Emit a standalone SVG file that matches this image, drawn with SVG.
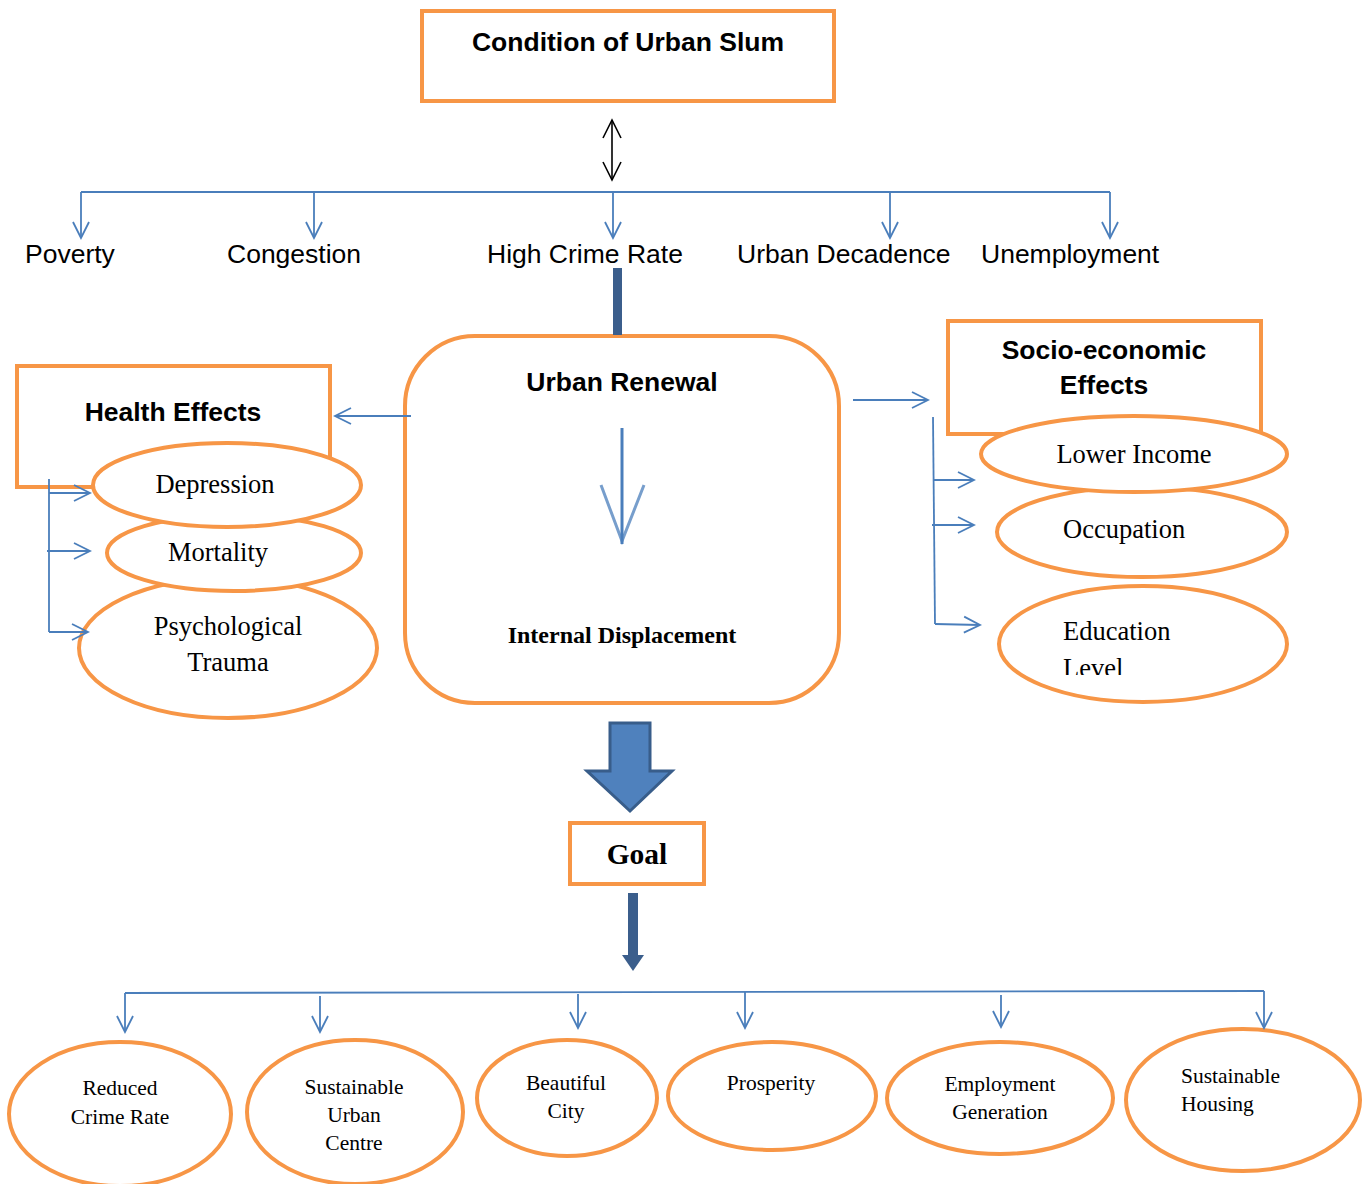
<svg xmlns="http://www.w3.org/2000/svg" width="1362" height="1184" viewBox="0 0 1362 1184">
<style>
.box{fill:#fff;stroke:#F79646;stroke-width:4}
.ell{fill:#fff;stroke:#F79646;stroke-width:4}
.con{fill:none;stroke:#4A7EBB;stroke-width:1.8}
.hb{font-family:"Liberation Sans",Arial,sans-serif;font-weight:bold;font-size:26.5px;fill:#000;text-anchor:middle}
.h{font-family:"Liberation Sans",Arial,sans-serif;font-size:26.5px;fill:#000}
.t{font-family:"Liberation Serif","Times New Roman",serif;font-size:26.5px;fill:#000;text-anchor:middle}
.s{font-family:"Liberation Serif","Times New Roman",serif;font-size:21.5px;fill:#000;text-anchor:middle}
</style>
<defs>
<marker id="ar" markerUnits="userSpaceOnUse" markerWidth="20" markerHeight="20" viewBox="-18 -10 20 20" refX="0" refY="0" orient="auto">
<path d="M-16,-8 L0,0 L-16,8" fill="none" stroke="#4A7EBB" stroke-width="1.8"/>
</marker>
<marker id="bk" markerUnits="userSpaceOnUse" markerWidth="24" markerHeight="24" viewBox="-20 -12 24 24" refX="0" refY="0" orient="auto-start-reverse">
<path d="M-18,-9 L0,0 L-18,9" fill="none" stroke="#000" stroke-width="1.6"/>
</marker>
<clipPath id="clipEd"><rect x="1000" y="600" width="300" height="75"/></clipPath>
</defs>

<g id="condition">
<rect class="box" x="422" y="11" width="412" height="90"/>
<text class="hb" x="628" y="51">Condition of Urban Slum</text>
</g>

<g id="labels-top">
<text class="h" x="25" y="263">Poverty</text>
<text class="h" x="227" y="263">Congestion</text>
<text class="h" x="487" y="263">High Crime Rate</text>
<text class="h" x="737" y="263">Urban Decadence</text>
<text class="h" x="981" y="263">Unemployment</text>
</g>

<g id="urban-renewal">
<rect class="box" x="405" y="336" width="434" height="367" rx="70" ry="70"/>
<text class="hb" x="622" y="391">Urban Renewal</text>
<text class="t" x="622" y="643" style="font-weight:bold;font-size:24px">Internal Displacement</text>
</g>

<g id="health-effects">
<rect class="box" x="17" y="366" width="313" height="121"/>
<text class="hb" x="173" y="421">Health Effects</text>
</g>
<g id="psychological-trauma">
<ellipse class="ell" cx="228" cy="648" rx="149" ry="70"/>
<text class="t" x="228" y="635">Psychological</text>
<text class="t" x="228" y="671">Trauma</text>
</g>
<g id="mortality">
<ellipse class="ell" cx="234" cy="553" rx="127" ry="38"/>
<text class="t" x="218" y="561">Mortality</text>
</g>
<g id="depression">
<ellipse class="ell" cx="227" cy="485" rx="134" ry="42"/>
<text class="t" x="215" y="493">Depression</text>
</g>

<g id="socio-economic-effects">
<rect class="box" x="948" y="321" width="313" height="113"/>
<text class="hb" x="1104" y="359">Socio-economic</text>
<text class="hb" x="1104" y="394">Effects</text>
</g>
<g id="education-level">
<ellipse class="ell" cx="1143" cy="644" rx="144" ry="58"/>
<text class="t" x="1063" y="640" style="text-anchor:start">Education</text>
<text class="t" x="1063" y="677" style="text-anchor:start" clip-path="url(#clipEd)">Level</text>
</g>
<g id="occupation">
<ellipse class="ell" cx="1142" cy="532" rx="145" ry="45"/>
<text class="t" x="1063" y="538" style="text-anchor:start">Occupation</text>
</g>
<g id="lower-income">
<ellipse class="ell" cx="1134" cy="454" rx="153" ry="38"/>
<text class="t" x="1134" y="463">Lower Income</text>
</g>

<g id="goal">
<rect class="box" x="570" y="823" width="134" height="61"/>
<text class="t" x="637" y="864" style="font-weight:bold;font-size:29.5px">Goal</text>
</g>

<g id="reduced-crime-rate">
<ellipse class="ell" cx="120" cy="1114" rx="111" ry="72"/>
<text class="s" x="120" y="1095">Reduced</text>
<text class="s" x="120" y="1124">Crime Rate</text>
</g>
<g id="sustainable-urban-centre">
<ellipse class="ell" cx="355" cy="1112" rx="108" ry="72"/>
<text class="s" x="354" y="1094">Sustainable</text>
<text class="s" x="354" y="1122">Urban</text>
<text class="s" x="354" y="1150">Centre</text>
</g>
<g id="beautiful-city">
<ellipse class="ell" cx="567" cy="1098" rx="90" ry="58"/>
<text class="s" x="566" y="1090">Beautiful</text>
<text class="s" x="566" y="1118">City</text>
</g>
<g id="prosperity">
<ellipse class="ell" cx="772" cy="1096" rx="104" ry="54"/>
<text class="s" x="771" y="1090">Prosperity</text>
</g>
<g id="employment-generation">
<ellipse class="ell" cx="1000" cy="1098" rx="113" ry="56"/>
<text class="s" x="1000" y="1091">Employment</text>
<text class="s" x="1000" y="1119">Generation</text>
</g>
<g id="sustainable-housing">
<ellipse class="ell" cx="1243" cy="1100" rx="117" ry="71"/>
<text class="s" x="1181" y="1083" style="text-anchor:start">Sustainable</text>
<text class="s" x="1181" y="1111" style="text-anchor:start">Housing</text>
</g>

<g id="connectors">
<line x1="612" y1="120" x2="612" y2="180" stroke="#000" stroke-width="1.6" marker-start="url(#bk)" marker-end="url(#bk)"/>
<line class="con" x1="81" y1="192" x2="1110" y2="192"/>
<line class="con" x1="81" y1="192" x2="81" y2="238" marker-end="url(#ar)"/>
<line class="con" x1="314" y1="192" x2="314" y2="238" marker-end="url(#ar)"/>
<line class="con" x1="613" y1="192" x2="613" y2="238" marker-end="url(#ar)"/>
<line class="con" x1="890" y1="192" x2="890" y2="238" marker-end="url(#ar)"/>
<line class="con" x1="1110" y1="192" x2="1110" y2="238" marker-end="url(#ar)"/>
<rect x="613" y="268" width="9" height="67" fill="#3B5E8C"/>
<line x1="622" y1="428" x2="622" y2="544" stroke="#4A7EBB" stroke-width="3"/>
<path d="M601,485 L622,541 L644,485" fill="none" stroke="#4A7EBB" stroke-width="3" opacity="0.75"/>
<line class="con" x1="411" y1="416" x2="335" y2="416" marker-end="url(#ar)"/>
<line class="con" x1="49" y1="479" x2="49" y2="632"/>
<line class="con" x1="49" y1="493" x2="90" y2="493" marker-end="url(#ar)"/>
<line class="con" x1="47" y1="551" x2="90" y2="551" marker-end="url(#ar)"/>
<line class="con" x1="49" y1="632" x2="88" y2="632" marker-end="url(#ar)"/>
<line class="con" x1="853" y1="400" x2="928" y2="400" marker-end="url(#ar)"/>
<path class="con" d="M933,417 L935,624"/>
<line class="con" x1="934" y1="480" x2="974" y2="480" marker-end="url(#ar)"/>
<line class="con" x1="932" y1="525" x2="974" y2="525" marker-end="url(#ar)"/>
<line class="con" x1="935" y1="624" x2="980" y2="625" marker-end="url(#ar)"/>
<path d="M610,723 L650,723 L650,771 L672,771 L630,811 L587,771 L610,771 Z" fill="#4F81BD" stroke="#385D8A" stroke-width="3" stroke-linejoin="miter"/>
<path d="M628,893 L638,893 L638,955 L644,955 L633,971 L622,955 L628,955 Z" fill="#3B5E8C"/>
<path class="con" d="M125,993 L1264,991"/>
<line class="con" x1="125" y1="993" x2="125" y2="1032" marker-end="url(#ar)"/>
<line class="con" x1="320" y1="996" x2="320" y2="1032" marker-end="url(#ar)"/>
<line class="con" x1="578" y1="994" x2="578" y2="1028" marker-end="url(#ar)"/>
<line class="con" x1="745" y1="992" x2="745" y2="1028" marker-end="url(#ar)"/>
<line class="con" x1="1001" y1="995" x2="1001" y2="1027" marker-end="url(#ar)"/>
<line class="con" x1="1264" y1="991" x2="1264" y2="1028" marker-end="url(#ar)"/>
</g>
</svg>
